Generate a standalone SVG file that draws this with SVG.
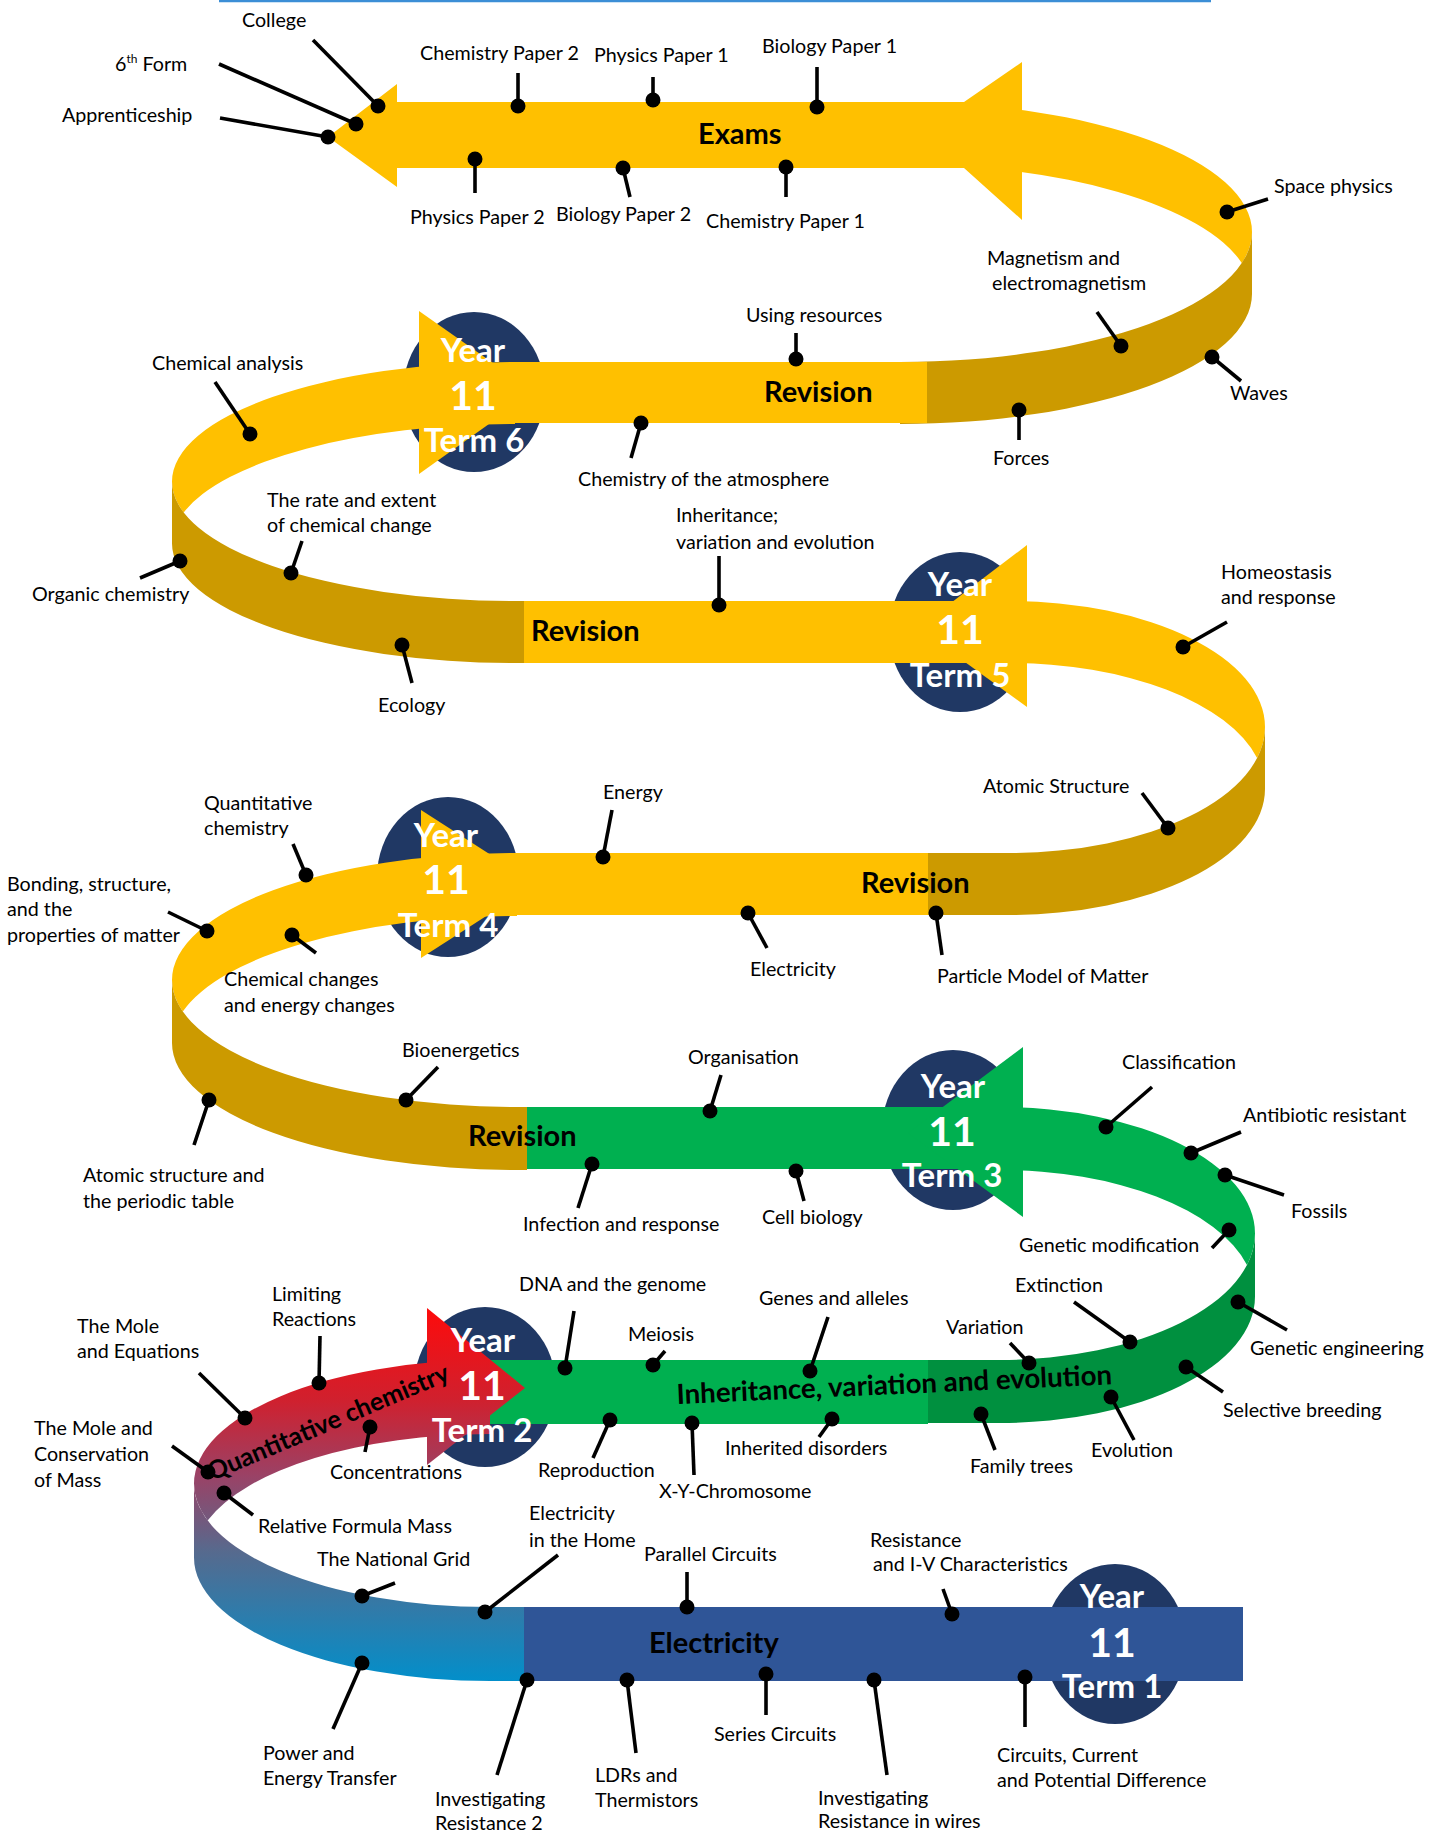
<svg xmlns="http://www.w3.org/2000/svg" width="1430" height="1833" viewBox="0 0 1430 1833">
<defs>
<style>
.lbl{font-family:Lato,"Liberation Sans",sans-serif;font-size:19.7px;fill:#000}
.big{font-family:Lato,"Liberation Sans",sans-serif;font-size:29px;font-weight:bold;fill:#000}
.yr{font-family:Lato,"Liberation Sans",sans-serif;font-size:33px;font-weight:bold;fill:#fff;text-anchor:middle}
.num{font-family:Lato,"Liberation Sans",sans-serif;font-size:41px;font-weight:bold;fill:#fff;text-anchor:middle}
.y{fill:#FFC000}.dy{fill:#CC9A00}.g{fill:#00B050}.dg{fill:#00903F}.nv{fill:#203864}.bl{fill:#2F5597}
#connectors line{stroke:#000;stroke-width:3.6}
#connectors circle{fill:#000}
</style>
<linearGradient id="qc" gradientUnits="userSpaceOnUse" x1="0" y1="1305" x2="0" y2="1685">
<stop offset="0" stop-color="#FF0A0A"/>
<stop offset="0.25" stop-color="#D0202E"/>
<stop offset="0.45" stop-color="#9A4266"/>
<stop offset="0.65" stop-color="#566A8E"/>
<stop offset="1" stop-color="#0090CC"/>
</linearGradient>
</defs>
<rect width="1430" height="1833" fill="#fff"/>
<line x1="219" y1="1" x2="1211" y2="1" stroke="#3B8ED6" stroke-width="2.5"/>

<g id="circles">
<ellipse class="nv" cx="474" cy="392" rx="71" ry="80"/>
<ellipse class="nv" cx="960" cy="632" rx="71" ry="80"/>
<ellipse class="nv" cx="448" cy="877" rx="71" ry="80"/>
<ellipse class="nv" cx="953" cy="1130" rx="71" ry="80"/>
<ellipse class="nv" cx="485" cy="1387" rx="71" ry="80"/>
<ellipse class="nv" cx="1115" cy="1644" rx="71" ry="80"/>
</g>

<g id="loops">
<path class="y" d="M900,102 A352,130 0 0 1 1252,232 A352,130 0 0 1 1241.8,263 A352,130 0 0 0 900,164 Z"/>
<path class="dy" d="M1252,232 L1252,294 A352,130 0 0 1 900,424 L900,362 A352,130 0 0 0 1252,232 Z"/>
<path class="y" d="M515,362 A343,119.5 0 0 0 172,481.5 A343,119.5 0 0 0 183.7,512.5 A343,119.5 0 0 1 515,424 Z"/>
<path class="dy" d="M172,481.5 L172,543.5 A343,119.5 0 0 0 515,663 L524,663 L524,601 L515,601 A343,119.5 0 0 1 172,481.5 Z"/>
<path class="y" d="M1009,601 A256,126 0 0 1 1265,727 A256,126 0 0 1 1257.1,758 A256,126 0 0 0 1009,663 Z"/>
<path class="dy" d="M1265,727 L1265,789 A256,126 0 0 1 1009,915 L926,915 L926,853 L1009,853 A256,126 0 0 0 1265,727 Z"/>
<path class="y" d="M517,853 A345,127 0 0 0 172,980 A345,127 0 0 0 182.8,1011.5 A345,127 0 0 1 517,916 Z"/>
<path class="dy" d="M172,980 L172,1043 A345,127 0 0 0 517,1170 L527,1170 L527,1107 L517,1107 A345,127 0 0 1 172,980 Z"/>
<path class="g" d="M1000,1107 A255,126.5 0 0 1 1255,1233.5 A255,126.5 0 0 1 1247,1265 A255,126.5 0 0 0 1000,1170 Z"/>
<path class="dg" d="M1255,1233.5 L1255,1296.5 A255,126.5 0 0 1 1000,1423 L928,1423 L928,1360 L1000,1360 A255,126.5 0 0 0 1255,1233.5 Z"/>
<path fill="url(#qc)" d="M490,1360 A296,123.5 0 0 0 194,1483.5 A296,123.5 0 0 0 207.6,1520.5 A296,123.5 0 0 1 490,1434 Z"/>
<path fill="url(#qc)" d="M194,1483.5 L194,1557.5 A296,123.5 0 0 0 490,1681 L524,1681 L524,1607 L490,1607 A296,123.5 0 0 1 194,1483.5 Z"/>
</g>

<g id="exams">
<polygon class="y" points="328,137 397,84 397,102 964,102 1022,62 1022,220 964,168 397,168 397,187"/>
<text class="big" x="698" y="144">Exams</text>
</g>
<g id="term6">
<rect class="y" x="510" y="362" width="417" height="61"/>
<polygon class="y" points="419,311 534,392 419,474"/>
<text class="big" x="764" y="402">Revision</text>
</g>
<g id="term5">
<rect class="y" x="524" y="601" width="490" height="62"/>
<polygon class="y" points="1027,545 918,628 1027,707"/>
<text class="big" x="531" y="641">Revision</text>
</g>
<g id="term4">
<rect class="y" x="512" y="853" width="416" height="62"/>
<polygon class="y" points="421,810 536,884 421,958"/>
<text class="big" x="861" y="893">Revision</text>
</g>
<g id="term3">
<rect class="g" x="527" y="1107" width="478" height="62"/>
<polygon class="g" points="1023,1047 908,1133 1023,1217"/>
<text class="big" x="468" y="1146">Revision</text>
</g>
<g id="term2">
<rect class="g" x="490" y="1360" width="438" height="64"/>
<polygon fill="url(#qc)" points="427,1308 525,1388 427,1465"/>
<text class="big" style="font-size:27.7px" x="677" y="1404" transform="rotate(-2.6 677 1404)">Inheritance, variation and evolution</text>
<text class="big" style="font-size:25.3px" x="212" y="1481" transform="rotate(-23 212 1481)">Quantitative chemistry</text>
</g>
<g id="term1">
<rect class="bl" x="524" y="1607" width="719" height="74"/>
<text class="big" x="649" y="1653">Electricity</text>
</g>

<g id="termlabels">
<text class="yr" x="473" y="362">Year</text><text class="num" x="473" y="410">11</text><text class="yr" x="474" y="452">Term 6</text>
<text class="yr" x="960" y="596">Year</text><text class="num" x="960" y="644">11</text><text class="yr" x="960" y="687">Term 5</text>
<text class="yr" x="446" y="847">Year</text><text class="num" x="446" y="894">11</text><text class="yr" x="448" y="937">Term 4</text>
<text class="yr" x="953" y="1098">Year</text><text class="num" x="952" y="1146">11</text><text class="yr" x="952" y="1187">Term 3</text>
<text class="yr" x="483" y="1352">Year</text><text class="num" x="482" y="1400">11</text><text class="yr" x="482" y="1442">Term 2</text>
<text class="yr" x="1112" y="1608">Year</text><text class="num" x="1112" y="1657">11</text><text class="yr" x="1112" y="1698">Term 1</text>
</g>

<g id="connectors">
<line x1="313" y1="40" x2="378" y2="106"/><circle cx="378" cy="106" r="7.5"/>
<line x1="219" y1="64" x2="356" y2="124"/><circle cx="356" cy="124" r="7.5"/>
<line x1="220" y1="118" x2="328" y2="137"/><circle cx="328" cy="137" r="7.5"/>
<line x1="518" y1="73" x2="518" y2="106"/><circle cx="518" cy="106" r="7.5"/>
<line x1="653" y1="77" x2="653" y2="100"/><circle cx="653" cy="100" r="7.5"/>
<line x1="817" y1="67" x2="817" y2="107"/><circle cx="817" cy="107" r="7.5"/>
<line x1="475" y1="159" x2="475" y2="193"/><circle cx="475" cy="159" r="7.5"/>
<line x1="623" y1="168" x2="630" y2="197"/><circle cx="623" cy="168" r="7.5"/>
<line x1="786" y1="167" x2="786" y2="197"/><circle cx="786" cy="167" r="7.5"/>
<line x1="1268" y1="199" x2="1227" y2="212"/><circle cx="1227" cy="212" r="7.5"/>
<line x1="1097" y1="312" x2="1121" y2="346"/><circle cx="1121" cy="346" r="7.5"/>
<line x1="1212" y1="357" x2="1241" y2="381"/><circle cx="1212" cy="357" r="7.5"/>
<line x1="1019" y1="410" x2="1019" y2="440"/><circle cx="1019" cy="410" r="7.5"/>
<line x1="796" y1="333" x2="796" y2="359"/><circle cx="796" cy="359" r="7.5"/>
<line x1="641" y1="423" x2="631" y2="458"/><circle cx="641" cy="423" r="7.5"/>
<line x1="215" y1="382" x2="250" y2="434"/><circle cx="250" cy="434" r="7.5"/>
<line x1="302" y1="541" x2="291" y2="573"/><circle cx="291" cy="573" r="7.5"/>
<line x1="140" y1="578" x2="180" y2="561"/><circle cx="180" cy="561" r="7.5"/>
<line x1="402" y1="645" x2="412" y2="683"/><circle cx="402" cy="645" r="7.5"/>
<line x1="719" y1="556" x2="719" y2="605"/><circle cx="719" cy="605" r="7.5"/>
<line x1="1227" y1="622" x2="1183" y2="647"/><circle cx="1183" cy="647" r="7.5"/>
<line x1="1142" y1="793" x2="1168" y2="828"/><circle cx="1168" cy="828" r="7.5"/>
<line x1="612" y1="810" x2="603" y2="857"/><circle cx="603" cy="857" r="7.5"/>
<line x1="293" y1="844" x2="306" y2="875"/><circle cx="306" cy="875" r="7.5"/>
<line x1="168" y1="912" x2="207" y2="931"/><circle cx="207" cy="931" r="7.5"/>
<line x1="292" y1="935" x2="316" y2="953"/><circle cx="292" cy="935" r="7.5"/>
<line x1="748" y1="913" x2="767" y2="948"/><circle cx="748" cy="913" r="7.5"/>
<line x1="936" y1="913" x2="942" y2="955"/><circle cx="936" cy="913" r="7.5"/>
<line x1="438" y1="1067" x2="406" y2="1100"/><circle cx="406" cy="1100" r="7.5"/>
<line x1="209" y1="1100" x2="194" y2="1145"/><circle cx="209" cy="1100" r="7.5"/>
<line x1="721" y1="1075" x2="710" y2="1111"/><circle cx="710" cy="1111" r="7.5"/>
<line x1="592" y1="1164" x2="578" y2="1208"/><circle cx="592" cy="1164" r="7.5"/>
<line x1="796" y1="1171" x2="804" y2="1201"/><circle cx="796" cy="1171" r="7.5"/>
<line x1="1152" y1="1087" x2="1106" y2="1127"/><circle cx="1106" cy="1127" r="7.5"/>
<line x1="1241" y1="1132" x2="1191" y2="1153"/><circle cx="1191" cy="1153" r="7.5"/>
<line x1="1225" y1="1175" x2="1284" y2="1195"/><circle cx="1225" cy="1175" r="7.5"/>
<line x1="1212" y1="1248" x2="1229" y2="1230"/><circle cx="1229" cy="1230" r="7.5"/>
<line x1="1074" y1="1302" x2="1130" y2="1342"/><circle cx="1130" cy="1342" r="7.5"/>
<line x1="1238" y1="1302" x2="1287" y2="1330"/><circle cx="1238" cy="1302" r="7.5"/>
<line x1="1186" y1="1367" x2="1223" y2="1392"/><circle cx="1186" cy="1367" r="7.5"/>
<line x1="1111" y1="1397" x2="1134" y2="1440"/><circle cx="1111" cy="1397" r="7.5"/>
<line x1="981" y1="1414" x2="995" y2="1450"/><circle cx="981" cy="1414" r="7.5"/>
<line x1="1010" y1="1343" x2="1029" y2="1363"/><circle cx="1029" cy="1363" r="7.5"/>
<line x1="828" y1="1317" x2="810" y2="1371"/><circle cx="810" cy="1371" r="7.5"/>
<line x1="665" y1="1351" x2="653" y2="1365"/><circle cx="653" cy="1365" r="7.5"/>
<line x1="574" y1="1311" x2="565" y2="1368"/><circle cx="565" cy="1368" r="7.5"/>
<line x1="610" y1="1420" x2="593" y2="1458"/><circle cx="610" cy="1420" r="7.5"/>
<line x1="692" y1="1423" x2="694" y2="1475"/><circle cx="692" cy="1423" r="7.5"/>
<line x1="832" y1="1419" x2="819" y2="1437"/><circle cx="832" cy="1419" r="7.5"/>
<line x1="370" y1="1427" x2="365" y2="1452"/><circle cx="370" cy="1427" r="7.5"/>
<line x1="320" y1="1336" x2="319" y2="1383"/><circle cx="319" cy="1383" r="7.5"/>
<line x1="199" y1="1373" x2="245" y2="1418"/><circle cx="245" cy="1418" r="7.5"/>
<line x1="172" y1="1446" x2="208" y2="1472"/><circle cx="208" cy="1472" r="7.5"/>
<line x1="224" y1="1493" x2="253" y2="1515"/><circle cx="224" cy="1493" r="7.5"/>
<line x1="558" y1="1555" x2="485" y2="1612"/><circle cx="485" cy="1612" r="7.5"/>
<line x1="395" y1="1583" x2="362" y2="1596"/><circle cx="362" cy="1596" r="7.5"/>
<line x1="687" y1="1572" x2="687" y2="1607"/><circle cx="687" cy="1607" r="7.5"/>
<line x1="943" y1="1589" x2="952" y2="1614"/><circle cx="952" cy="1614" r="7.5"/>
<line x1="362" y1="1663" x2="333" y2="1729"/><circle cx="362" cy="1663" r="7.5"/>
<line x1="527" y1="1680" x2="497" y2="1775"/><circle cx="527" cy="1680" r="7.5"/>
<line x1="627" y1="1680" x2="636" y2="1753"/><circle cx="627" cy="1680" r="7.5"/>
<line x1="766" y1="1674" x2="766" y2="1715"/><circle cx="766" cy="1674" r="7.5"/>
<line x1="874" y1="1680" x2="887" y2="1775"/><circle cx="874" cy="1680" r="7.5"/>
<line x1="1025" y1="1677" x2="1025" y2="1727"/><circle cx="1025" cy="1677" r="7.5"/>
</g>

<g id="labels">
<text class="lbl" x="242" y="27">College</text>
<text class="lbl" x="115" y="71">6<tspan dy="-8" font-size="12">th</tspan><tspan dy="8"> Form</tspan></text>
<text class="lbl" x="62" y="122">Apprenticeship</text>
<text class="lbl" x="420" y="60">Chemistry Paper 2</text>
<text class="lbl" x="594" y="62">Physics Paper 1</text>
<text class="lbl" x="762" y="53">Biology Paper 1</text>
<text class="lbl" x="410" y="224">Physics Paper 2</text>
<text class="lbl" x="556" y="221">Biology Paper 2</text>
<text class="lbl" x="706" y="228">Chemistry Paper 1</text>
<text class="lbl" x="1274" y="193">Space physics</text>
<text class="lbl" x="987" y="265">Magnetism and</text>
<text class="lbl" x="992" y="290">electromagnetism</text>
<text class="lbl" x="1230" y="400">Waves</text>
<text class="lbl" x="993" y="465">Forces</text>
<text class="lbl" x="746" y="322">Using resources</text>
<text class="lbl" x="578" y="486">Chemistry of the atmosphere</text>
<text class="lbl" x="152" y="370">Chemical analysis</text>
<text class="lbl" x="267" y="507">The rate and extent</text>
<text class="lbl" x="267" y="532">of chemical change</text>
<text class="lbl" x="32" y="601">Organic chemistry</text>
<text class="lbl" x="378" y="712">Ecology</text>
<text class="lbl" x="676" y="522">Inheritance;</text>
<text class="lbl" x="676" y="549">variation and evolution</text>
<text class="lbl" x="1221" y="579">Homeostasis</text>
<text class="lbl" x="1221" y="604">and response</text>
<text class="lbl" x="983" y="793">Atomic Structure</text>
<text class="lbl" x="603" y="799">Energy</text>
<text class="lbl" x="204" y="810">Quantitative</text>
<text class="lbl" x="204" y="835">chemistry</text>
<text class="lbl" x="7" y="891">Bonding, structure,</text>
<text class="lbl" x="7" y="916">and the</text>
<text class="lbl" x="7" y="942">properties of matter</text>
<text class="lbl" x="224" y="986">Chemical changes</text>
<text class="lbl" x="224" y="1012">and energy changes</text>
<text class="lbl" x="750" y="976">Electricity</text>
<text class="lbl" x="937" y="983">Particle Model of Matter</text>
<text class="lbl" x="402" y="1057">Bioenergetics</text>
<text class="lbl" x="83" y="1182">Atomic structure and</text>
<text class="lbl" x="83" y="1208">the periodic table</text>
<text class="lbl" x="688" y="1064">Organisation</text>
<text class="lbl" x="523" y="1231">Infection and response</text>
<text class="lbl" x="762" y="1224">Cell biology</text>
<text class="lbl" x="1122" y="1069">Classification</text>
<text class="lbl" x="1243" y="1122">Antibiotic resistant</text>
<text class="lbl" x="1291" y="1218">Fossils</text>
<text class="lbl" x="1019" y="1252">Genetic modification</text>
<text class="lbl" x="1015" y="1292">Extinction</text>
<text class="lbl" x="1250" y="1355">Genetic engineering</text>
<text class="lbl" x="1223" y="1417">Selective breeding</text>
<text class="lbl" x="1091" y="1457">Evolution</text>
<text class="lbl" x="970" y="1473">Family trees</text>
<text class="lbl" x="946" y="1334">Variation</text>
<text class="lbl" x="759" y="1305">Genes and alleles</text>
<text class="lbl" x="628" y="1341">Meiosis</text>
<text class="lbl" x="519" y="1291">DNA and the genome</text>
<text class="lbl" x="538" y="1477">Reproduction</text>
<text class="lbl" x="659" y="1498">X-Y-Chromosome</text>
<text class="lbl" x="725" y="1455">Inherited disorders</text>
<text class="lbl" x="330" y="1479">Concentrations</text>
<text class="lbl" x="272" y="1301">Limiting</text>
<text class="lbl" x="272" y="1326">Reactions</text>
<text class="lbl" x="77" y="1333">The Mole</text>
<text class="lbl" x="77" y="1358">and Equations</text>
<text class="lbl" x="34" y="1435">The Mole and</text>
<text class="lbl" x="34" y="1461">Conservation</text>
<text class="lbl" x="34" y="1487">of Mass</text>
<text class="lbl" x="258" y="1533">Relative Formula Mass</text>
<text class="lbl" x="529" y="1520">Electricity</text>
<text class="lbl" x="529" y="1547">in the Home</text>
<text class="lbl" x="317" y="1566">The National Grid</text>
<text class="lbl" x="644" y="1561">Parallel Circuits</text>
<text class="lbl" x="870" y="1547">Resistance</text>
<text class="lbl" x="873" y="1571">and I-V Characteristics</text>
<text class="lbl" x="263" y="1760">Power and</text>
<text class="lbl" x="263" y="1785">Energy Transfer</text>
<text class="lbl" x="435" y="1806">Investigating</text>
<text class="lbl" x="435" y="1830">Resistance 2</text>
<text class="lbl" x="595" y="1782">LDRs and</text>
<text class="lbl" x="595" y="1807">Thermistors</text>
<text class="lbl" x="714" y="1741">Series Circuits</text>
<text class="lbl" x="818" y="1805">Investigating</text>
<text class="lbl" x="818" y="1828">Resistance in wires</text>
<text class="lbl" x="997" y="1762">Circuits, Current</text>
<text class="lbl" x="997" y="1787">and Potential Difference</text>
</g>
</svg>
